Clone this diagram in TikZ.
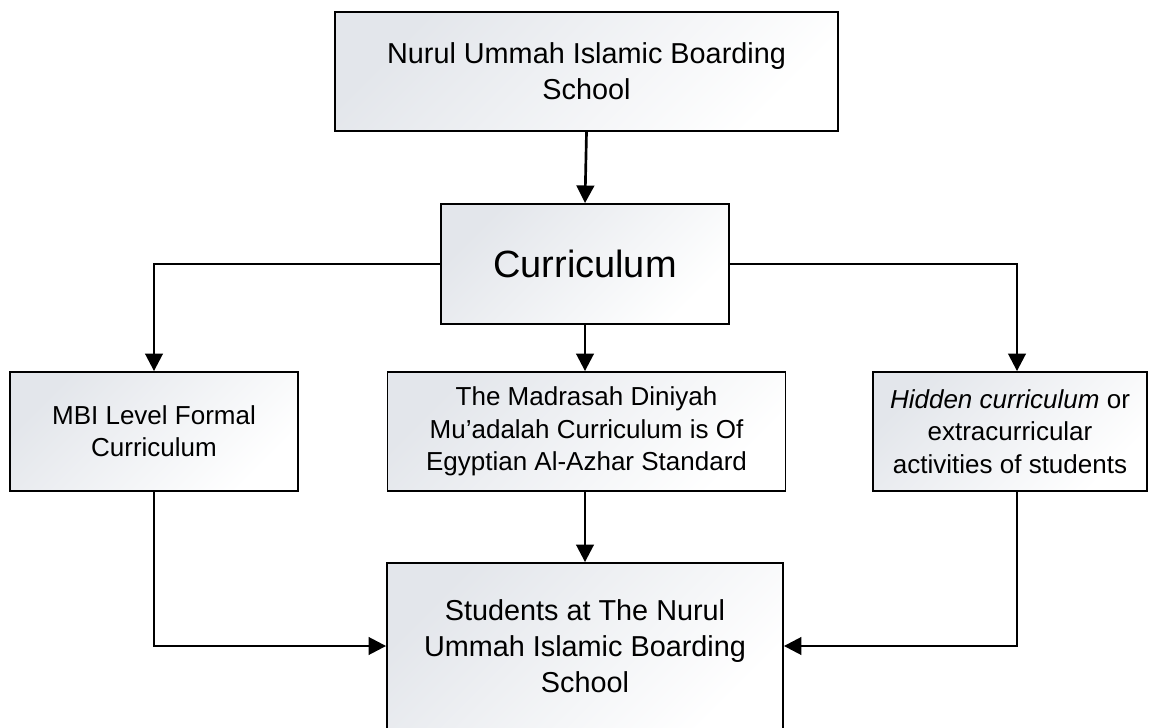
\documentclass[tikz,border=0pt]{standalone}
\usepackage{fontspec}
\setmainfont{Liberation Sans}
\usepackage{tikz}
\usetikzlibrary{arrows.meta}
\definecolor{boxgray}{HTML}{E3E6EB}

\begin{document}
\begin{tikzpicture}[
    box/.style={draw=black, line width=1.3pt, rectangle, align=center,
      top color=boxgray, bottom color=white, shading angle=45,
      inner sep=0pt},
    bigtext/.style={font=\fontsize{20.5}{25.6}\selectfont},
    smalltext/.style={font=\fontsize{18.5}{23}\selectfont},
    link/.style={line width=1.9pt,
      -{Triangle[length=12.5pt,width=12.5pt]}}
  ]
  \useasboundingbox (0,0) rectangle (28.8,18.175);

  \node[box, bigtext, minimum width=12.575cm, minimum height=2.975cm]
    (school) at (14.6625,16.3875)
    {Nurul Ummah Islamic Boarding\\School};
  \node[box, font=\fontsize{27}{32}\selectfont,
    minimum width=7.2cm, minimum height=3cm]
    (curriculum) at (14.625,11.575)
    {Curriculum};
  \node[box, smalltext, minimum width=7.2cm, minimum height=2.975cm]
    (formal) at (3.85,7.3875)
    {MBI Level Formal\\Curriculum};
  \node[box, smalltext, minimum width=9.95cm, minimum height=2.975cm]
    (diniyah) at (14.6625,7.3875)
    {The Madrasah Diniyah\\Mu’adalah Curriculum is Of\\Egyptian Al-Azhar Standard};
  \node[box, smalltext, minimum width=6.85cm, minimum height=2.975cm]
    (hidden) at (25.25,7.3875)
    {\textit{Hidden curriculum} or\\extracurricular\\activities of students};
  \node[box, bigtext, minimum width=9.9cm, minimum height=4.15cm]
    (students) at (14.625,2.025)
    {Students at The Nurul\\Ummah Islamic Boarding\\School};

  % from the school down to the curriculum
  \draw[link]
    (school.south)
    --
    (curriculum.north);
  % curriculum to the three kinds
  \draw[link]
    (curriculum.west)
    -|
    (formal.north);
  \draw[link]
    (curriculum.south)
    --
    (curriculum.south |- diniyah.north);
  \draw[link]
    (curriculum.east)
    -|
    ([xshift=0.175cm]hidden.north);
  % the three kinds to the students
  \draw[link]
    (formal.south)
    |-
    (students.west);
  \draw[link]
    (diniyah.south -| students.north)
    --
    (students.north);
  \draw[link]
    ([xshift=0.175cm]hidden.south)
    |-
    (students.east);
\end{tikzpicture}
\end{document}
